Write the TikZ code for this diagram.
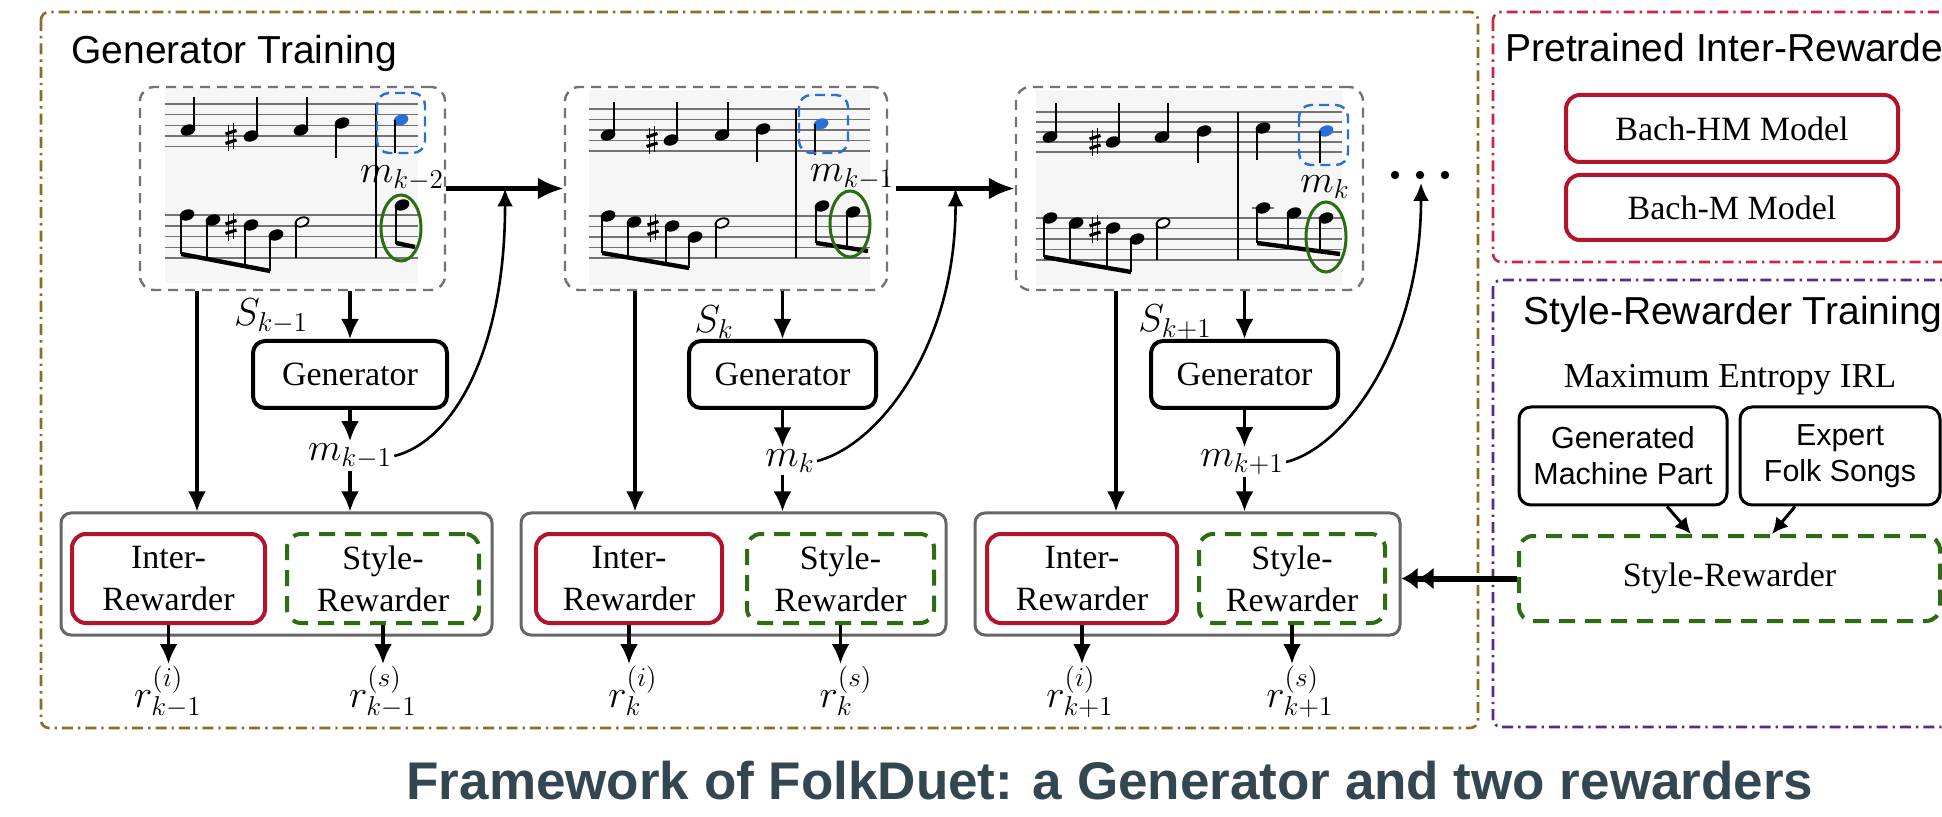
\RequirePackage{fix-cm}
\documentclass[tikz,border=0pt]{standalone}
\usepackage[no-math]{fontspec}
\setmainfont{Liberation Serif}
\setsansfont{Liberation Sans}
\usetikzlibrary{arrows.meta,calc}
\definecolor{gold}{RGB}{139,109,38}
\definecolor{pinkred}{RGB}{206,38,66}
\definecolor{boxred}{RGB}{178,20,44}
\definecolor{purp}{RGB}{88,40,140}
\definecolor{grn}{RGB}{46,108,20}
\definecolor{blu}{RGB}{40,112,214}
\definecolor{capc}{RGB}{52,70,80}
\definecolor{scorebg}{RGB}{246,246,246}
\newcommand{\nhd}[3][black]{\fill[#1,rotate around={20:(#2,#3)}] (#2,#3) ellipse [x radius=3.8pt, y radius=2.7pt];}
\newcommand{\hnd}[2]{\draw[line width=0.9pt,fill=white,rotate around={20:(#1,#2)}] (#1,#2) ellipse [x radius=3.4pt, y radius=2.2pt];}
\newcommand{\shp}[2]{\draw[line width=0.6pt] (#1-2.5,#2-12) -- (#1-2.5,#2+14) (#1+2.5,#2-14) -- (#1+2.5,#2+12);
  \draw[line width=1.6pt] (#1-5.5,#2-3) -- (#1+5.5,#2-6.5) (#1-5.5,#2+6.5) -- (#1+5.5,#2+3);}
\tikzset{
 region/.style={line width=1.3pt, dash pattern=on 5.5pt off 2.5pt on 1.2pt off 2.5pt, rounded corners=4pt},
 scorebox/.style={draw=black!55, line width=1.2pt, dash pattern=on 5pt off 3.5pt, rounded corners=7pt, inner sep=0pt, minimum height=101.5pt},
 genbox/.style={draw, line width=2pt, rounded corners=6pt, inner sep=0pt, minimum height=33.5pt, font=\fontsize{17}{20}\selectfont},
 rwbox/.style={draw=black!60, line width=1.5pt, rounded corners=5pt, inner sep=0pt, minimum height=61pt},
 interbox/.style={draw=boxred, line width=2pt, rounded corners=7pt, inner sep=0pt, minimum height=44.5pt, align=center, font=\fontsize{17}{21}\selectfont},
 stylebox/.style={draw=grn, line width=2pt, dash pattern=on 8pt off 5pt, rounded corners=7pt, inner sep=0pt, minimum height=44.5pt, align=center, font=\fontsize{17}{21}\selectfont},
 bachbox/.style={draw=boxred, line width=2pt, rounded corners=7pt, inner sep=0pt, minimum width=166pt, font=\fontsize{17}{20}\selectfont},
 sansbox/.style={draw, line width=1.5pt, rounded corners=6pt, inner sep=0pt, minimum height=49pt, align=center, font=\sffamily\fontsize{15.2}{18}\selectfont},
 mlbl/.style={inner sep=1pt, font=\fontsize{19.5}{22}\selectfont},
 title/.style={anchor=base west, inner sep=0pt, font=\sffamily\fontsize{19.5}{23}\selectfont},
 arr/.style={line width=1.6pt, -{Latex[length=10pt,width=9pt]}},
 smallarr/.style={line width=1.5pt, -{Latex[length=8pt,width=8pt]}},
 bigarr/.style={line width=2.3pt, -{Latex[length=13pt,width=11pt]}},
 curvarr/.style={line width=1.3pt, -{Latex[length=9pt,width=8pt]}},
 dblarr/.style={line width=3pt, -{Latex[length=8pt,width=11pt]Latex[length=8pt,width=11pt]}},
 bluebox/.style={draw=blu, line width=1.2pt, dash pattern=on 5pt off 3pt, rounded corners=6pt},
 noteellipse/.style={draw=grn, line width=1.5pt},
 staffline/.style={draw=black!55, line width=0.75pt},
 notestem/.style={line width=0.9pt},
 notebeam/.style={line width=2.2pt},
}
\begin{document}
\begin{tikzpicture}[x=0.5pt,y=-0.5pt]
\useasboundingbox (0,0) rectangle (1942,817);
\clip (0,0) rectangle (1942,817);
\fill[white] (0,0) rectangle (1942,817);

% ---------- regions ----------
\draw[region, draw=gold] (41,12) rectangle (1478,728);
\draw[region, draw=pinkred] (1493,12) rectangle (1990,262);
\draw[region, draw=purp] (1493,280) rectangle (1990,727);
\node[title] (t1) at (71,64) {Generator Training};
\node[title] (t2) at (1505,62) {Pretrained Inter-Rewarder};
\node[title] (t3) at (1523,325) {Style-Rewarder Training};

% ---------- score 1 ----------
\fill[scorebg] (165,88) rectangle (418,283);
\foreach \y in {104,114.65,125.3,135.95,146.6,215,225.8,236.6,247.4,258.2} \draw[staffline] (165,\y) -- (418,\y);
\draw[notestem] (376,104) -- (376,258.2);
\nhd{188}{130}\draw[notestem] (193.8,130) -- (193.8,97);
\shp{231}{137}
\nhd{251}{136}\draw[notestem] (256.8,136) -- (256.8,97);
\nhd{301}{130}\draw[notestem] (306.8,130) -- (306.8,97);
\nhd{342}{123}\draw[notestem] (336.2,123) -- (336.2,158);
\nhd[blu]{401}{120}\draw[notestem] (395.2,120) -- (395.2,153);
\draw[bluebox] (377,93) rectangle (425,153);
\nhd{187}{215}\nhd{213}{220}\shp{231}{227}\nhd{251}{225}\nhd{276}{235}
\draw[notestem] (181.2,215) -- (181.2,254) (207.2,220) -- (207.2,259) (245.2,225) -- (245.2,266.2) (270.2,235) -- (270.2,271);
\draw[notebeam] (181.2,254) -- (270.2,271);
\hnd{302}{222}\draw[notestem] (296.2,222) -- (296.2,258);
\nhd{402}{205}\draw[notestem] (396.2,205) -- (396.2,244);
\draw[notebeam] (396.2,243) -- (415,247);
\draw[noteellipse] (401,228) ellipse [x radius=10pt, y radius=16.5pt];
\node[scorebox, minimum width=152.5pt] (sc1) at (292.5,188.5) {};
\node[mlbl] (ml1) at (402,178) {$m_{k-2}$};

% ---------- score 2 ----------
\fill[scorebg] (589,90) rectangle (870,285);
\foreach \y in {109,119.5,130,140.5,151,216,226.5,237,247.5,258} \draw[staffline] (589,\y) -- (870,\y);
\draw[notestem] (796,109) -- (796,258);
\nhd{608}{135}\draw[notestem] (613.8,135) -- (613.8,102);
\shp{652}{140}
\nhd{671}{140}\draw[notestem] (676.8,140) -- (676.8,102);
\nhd{722}{135}\draw[notestem] (727.8,135) -- (727.8,102);
\nhd{763}{129}\draw[notestem] (757.2,129) -- (757.2,162);
\nhd[blu]{821}{124}\draw[notestem] (815.2,124) -- (815.2,155);
\draw[bluebox] (799,95) rectangle (848,153);
\nhd{608}{216}\nhd{634}{222}\shp{653}{228}\nhd{672}{226}\nhd{695}{237}
\draw[notestem] (602.2,216) -- (602.2,253) (628.2,222) -- (628.2,257.5) (666.2,226) -- (666.2,264) (689.2,237) -- (689.2,268);
\draw[notebeam] (602.2,253) -- (689.2,268);
\hnd{722}{223}\draw[notestem] (716.2,223) -- (716.2,258);
\nhd{822}{206}\draw[notestem] (816.2,206) -- (816.2,243);
\nhd{853}{212}\draw[notestem] (847.2,212) -- (847.2,248);
\draw[notebeam] (816.2,243) -- (868,251);
\draw[noteellipse] (850,224) ellipse [x radius=10pt, y radius=16.5pt];
\node[scorebox, minimum width=161pt] (sc2) at (726,188.5) {};
\node[mlbl] (ml2) at (852,177) {$m_{k-1}$};

% ---------- score 3 ----------
\fill[scorebg] (1036,90) rectangle (1342,285);
\foreach \y in {112,122,132,142,152,218,228.5,239,249.5,260} \draw[staffline] (1036,\y) -- (1342,\y);
\draw[notestem] (1238,112) -- (1238,260);
\nhd{1050}{137}\draw[notestem] (1055.8,137) -- (1055.8,103);
\shp{1095}{142}
\nhd{1113}{142}\draw[notestem] (1118.8,142) -- (1118.8,103);
\nhd{1162}{137}\draw[notestem] (1167.8,137) -- (1167.8,103);
\nhd{1204}{131}\draw[notestem] (1198.2,131) -- (1198.2,163);
\nhd{1263}{128}\draw[notestem] (1257.2,128) -- (1257.2,160);
\nhd[blu]{1326}{131}\draw[notestem] (1320.2,131) -- (1320.2,163);
\draw[bluebox] (1299,105) rectangle (1348,165);
\nhd{1050}{218}\nhd{1076}{223}\shp{1095}{229}\nhd{1113}{228}\nhd{1137}{239}
\draw[notestem] (1044.2,218) -- (1044.2,257) (1070.2,223) -- (1070.2,261.5) (1107.2,228) -- (1107.2,267.9) (1131.2,239) -- (1131.2,272);
\draw[notebeam] (1044.2,257) -- (1131.2,272);
\hnd{1163}{223}\draw[notestem] (1157.2,223) -- (1157.2,260);
\draw[staffline] (1252,208) -- (1274,208);
\nhd{1263}{208}\draw[notestem] (1257.2,208) -- (1257.2,243);
\nhd{1294}{213}\draw[notestem] (1288.2,213) -- (1288.2,247.1);
\nhd{1326}{218}\draw[notestem] (1320.2,218) -- (1320.2,251.4);
\draw[notebeam] (1257.2,243) -- (1340,254);
\draw[noteellipse] (1326,237) ellipse [x radius=10pt, y radius=17.5pt];
\node[scorebox, minimum width=173.5pt] (sc3) at (1189.5,188.5) {};
\node[mlbl] (ml3) at (1325,187) {$m_{k}$};

% dots
\fill (1395,175) circle (2.1pt) (1420,175) circle (2.1pt) (1445,175) circle (2.1pt);
\coordinate (dtop) at (1421,183);

% ---------- generators ----------
\node[genbox, minimum width=97pt] (g1) at (350,374.5) {Generator};
\node[genbox, minimum width=93.5pt] (g2) at (782.5,374.5) {Generator};
\node[genbox, minimum width=93.5pt] (g3) at (1244.5,374.5) {Generator};
\node[mlbl] (s1) at (271,316) {$S_{k-1}$};
\node[mlbl] (s2) at (714,322) {$S_{k}$};
\node[mlbl] (s3) at (1175,322) {$S_{k+1}$};
\node[mlbl] (m1) at (350,456) {$m_{k-1}$};
\node[mlbl] (m2) at (790,461) {$m_{k}$};
\node[mlbl] (m3) at (1242,462) {$m_{k+1}$};

% ---------- reward boxes ----------
\node[rwbox, minimum width=215.5pt] (rw1) at (276.5,574) {};
\node[rwbox, minimum width=212.5pt] (rw2) at (733.5,574) {};
\node[rwbox, minimum width=212.5pt] (rw3) at (1187.5,574) {};
\node[interbox, minimum width=96.5pt] (i1) at (168.5,578.5) {Inter-\\Rewarder};
\node[interbox, minimum width=93pt] (i2) at (629,578.5) {Inter-\\Rewarder};
\node[interbox, minimum width=95pt] (i3) at (1082,578.5) {Inter-\\Rewarder};
\node[stylebox, minimum width=96pt] (st1) at (383,578.5) {Style-\\Rewarder};
\node[stylebox, minimum width=93.5pt] (st2) at (840.5,578.5) {Style-\\Rewarder};
\node[stylebox, minimum width=93pt] (st3) at (1292,578.5) {Style-\\Rewarder};

\node[mlbl, anchor=north] (ri1) at (168,664) {$r^{(i)}_{k-1}$};
\node[mlbl, anchor=north] (rs1) at (383,664) {$r^{(s)}_{k-1}$};
\node[mlbl, anchor=north] (ri2) at (633,664) {$r^{(i)}_{k}$};
\node[mlbl, anchor=north] (rs2) at (846,664) {$r^{(s)}_{k}$};
\node[mlbl, anchor=north] (ri3) at (1080,664) {$r^{(i)}_{k+1}$};
\node[mlbl, anchor=north] (rs3) at (1300,664) {$r^{(s)}_{k+1}$};

% ---------- right panels ----------
\node[bachbox, minimum height=33.5pt] (b1) at (1732,128.5) {Bach-HM Model};
\node[bachbox, minimum height=32.5pt] (b2) at (1732,207.5) {Bach-M Model};
\node[anchor=base, inner sep=0pt, font=\fontsize{17.5}{20}\selectfont] (irl) at (1730,388) {Maximum Entropy IRL};
\node[sansbox, minimum width=104pt] (gm) at (1623,456) {Generated\\Machine Part};
\node[sansbox, minimum width=100pt] (ex) at (1840,456) {Expert\\Folk Songs};
\node[draw=grn, line width=2pt, dash pattern=on 8pt off 5pt, rounded corners=7pt, inner sep=0pt, minimum width=210.5pt, minimum height=42.5pt, font=\fontsize{17}{20}\selectfont] (srb) at (1729.5,578.5) {Style-Rewarder};

% ---------- connectors ----------
\coordinate (L1) at (197,0);
\coordinate (L2) at (635,0);
\coordinate (L3) at (1116,0);
\foreach \k in {1,2,3} {
  \draw[arr] (sc\k.south -| L\k) -- (L\k |- rw\k.north);
  \draw[arr] (sc\k.south -| g\k.north) -- (g\k.north);
  \draw[arr] (g\k.south) -- (g\k.south |- m\k.north);
  \draw[arr] (g\k.south |- m\k.south) -- (g\k.south |- rw\k.north);
  \draw[arr] (i\k.south) -- (i\k.south |- ri\k.north);
  \draw[arr] (st\k.south) -- (st\k.south |- rs\k.north);
}
\draw[bigarr] (ml1.east |- sc2.west) -- (sc2.west);
\draw[bigarr] (ml2.east |- sc3.west) -- (sc3.west);
\coordinate (u1) at ($(ml1.east |- sc2.west)!0.5!(sc2.west)$);
\coordinate (u2) at ($(ml2.east |- sc3.west)!0.5!(sc3.west)$);
\draw[curvarr] (m1.east) .. controls +(60,-15) and +(0,160) .. (u1);
\draw[curvarr] (m2.east) .. controls +(60,-15) and +(0,160) .. (u2);
\draw[curvarr] (m3.east) .. controls +(60,-15) and +(0,160) .. (dtop);

\draw[smallarr] ([xshift=22pt]gm.south) -- ([xshift=-19.25pt]srb.north);
\draw[smallarr] ([xshift=-22.5pt]ex.south) -- ([xshift=21.25pt]srb.north);
\draw[dblarr] (srb.west) -- (srb.west -| rw3.east);

% ---------- caption ----------
\node[anchor=base, inner sep=0pt, text=capc, font=\sffamily\bfseries\fontsize{26.5}{30}\selectfont] (cap) at (1110,799) {Framework of FolkDuet: a Generator and two rewarders};
\end{tikzpicture}
\end{document}
